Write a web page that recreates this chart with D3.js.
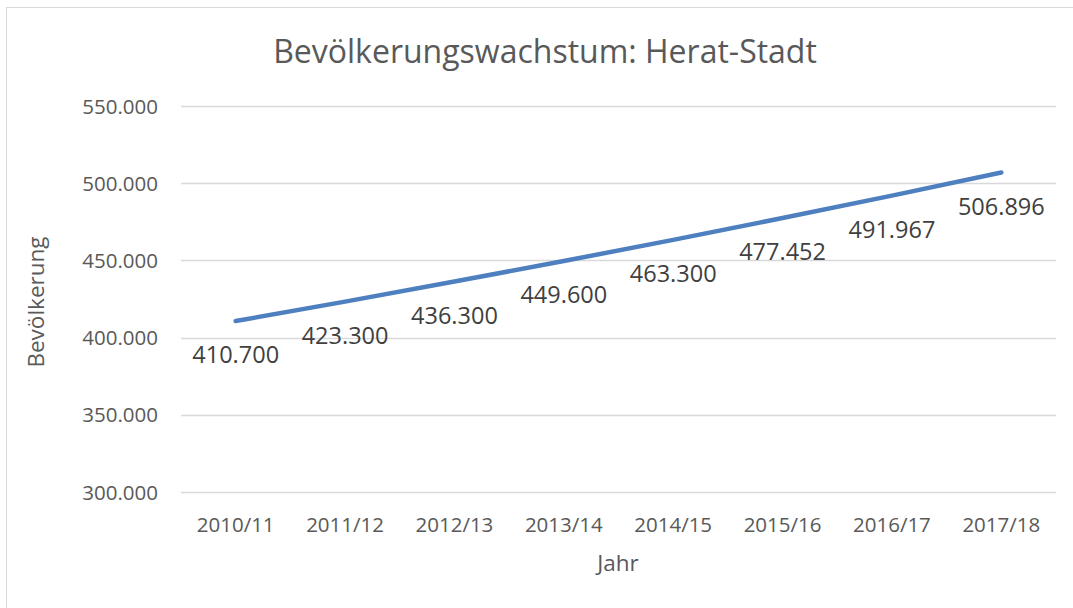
<!DOCTYPE html>
<html>
<head>
<meta charset="utf-8">
<title>Bevölkerungswachstum: Herat-Stadt</title>
<style>
  body { margin: 0; background: #fff; }
  svg { font-family: "Open Sans", sans-serif; }
</style>
</head>
<body>
<svg id="chart" width="1073" height="608"></svg>
<script src="https://d3js.org/d3.v7.min.js"></script>
<script>
// Daten
const jahre = ["2010/11", "2011/12", "2012/13", "2013/14", "2014/15", "2015/16", "2016/17", "2017/18"];
const bevoelkerung = [410700, 423300, 436300, 449600, 463300, 477452, 491967, 506896];
const yTicks = [300000, 350000, 400000, 450000, 500000, 550000];

const svg = d3.select("#chart");
const W = 1073, H = 608;
const m = { left: 181, right: 17, top: 106, bottom: 116 };

const fmt = d3.formatLocale({ decimal: ",", thousands: ".", grouping: [3] }).format(",.0f");

// Rahmen (nur links/oben sichtbar)
svg.append("rect")
    .attr("x", 6.5).attr("y", 7.5)
    .attr("width", W).attr("height", H)
    .attr("fill", "none")
    .attr("stroke", "#d9d9d9");

const x = d3.scaleBand()
    .domain(jahre)
    .range([m.left, W - m.right]);

const y = d3.scaleLinear()
    .domain([300000, 550000])
    .range([H - m.bottom, m.top]);

// Gitterlinien
svg.append("g")
    .selectAll("line")
    .data(yTicks)
    .join("line")
      .attr("x1", m.left).attr("x2", W - m.right)
      .attr("y1", d => Math.round(y(d)) + 0.5)
      .attr("y2", d => Math.round(y(d)) + 0.5)
      .attr("stroke", "#d9d9d9")
      .attr("stroke-width", 1.3);

// Y-Achse Beschriftung
svg.append("g")
    .selectAll("text")
    .data(yTicks)
    .join("text")
      .attr("x", 158)
      .attr("y", d => y(d) + 7.5)
      .attr("text-anchor", "end")
      .attr("font-size", 20.5)
      .attr("fill", "#595959")
      .text(d => fmt(d));

// X-Achse Beschriftung
svg.append("g")
    .selectAll("text")
    .data(jahre)
    .join("text")
      .attr("x", d => x(d) + x.bandwidth() / 2)
      .attr("y", 532)
      .attr("text-anchor", "middle")
      .attr("font-size", 20.5)
      .attr("fill", "#595959")
      .text(d => d);

// Linie
const line = d3.line()
    .x((d, i) => x(jahre[i]) + x.bandwidth() / 2)
    .y(d => y(d));

svg.append("path")
    .datum(bevoelkerung)
    .attr("d", line)
    .attr("fill", "none")
    .attr("stroke", "#4e7fbf")
    .attr("stroke-width", 4.5)
    .attr("stroke-linecap", "round")
    .attr("stroke-linejoin", "round");

// Datenbeschriftungen (unterhalb)
svg.append("g")
    .selectAll("text")
    .data(bevoelkerung)
    .join("text")
      .attr("x", (d, i) => x(jahre[i]) + x.bandwidth() / 2)
      .attr("y", d => y(d) + 42)
      .attr("text-anchor", "middle")
      .attr("font-size", 23.5)
      .attr("fill", "#404040")
      .text(d => fmt(d));

// Titel
svg.append("text")
    .attr("x", 545)
    .attr("y", 62.5)
    .attr("text-anchor", "middle")
    .attr("font-size", 32)
    .attr("fill", "#595959")
    .text("Bevölkerungswachstum: Herat-Stadt");

// Achsentitel
svg.append("text")
    .attr("x", 618)
    .attr("y", 571)
    .attr("text-anchor", "middle")
    .attr("font-size", 22.5)
    .attr("fill", "#595959")
    .text("Jahr");

svg.append("text")
    .attr("transform", "translate(44,302) rotate(-90)")
    .attr("text-anchor", "middle")
    .attr("font-size", 22.5)
    .attr("fill", "#595959")
    .text("Bevölkerung");
</script>
</body>
</html>
